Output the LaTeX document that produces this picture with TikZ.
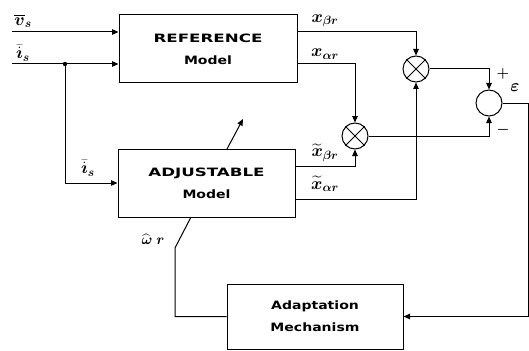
\documentclass[tikz,border=0pt]{standalone}
\usepackage{amsmath,bm}
\usepackage{fontspec}
\setsansfont{DejaVu Sans}
\usetikzlibrary{arrows.meta}
\newcommand\widetxt[1]{\scalebox{1.22}[1]{#1}}
\newcommand\widecaps[1]{\scalebox{1.45}[1]{#1}}
\begin{document}
\begin{tikzpicture}[x=1pt,y=-1pt,line width=1pt,
  box/.style={draw,rectangle,inner sep=0pt,align=center,
    font=\sffamily\bfseries\fontsize{11.5}{22}\selectfont},
  arr/.style={-{Triangle[length=6.5pt,width=5.5pt]}},
  mult/.style={draw,circle,minimum size=26pt,inner sep=0pt},
  mlbl/.style={inner sep=0pt,font=\fontsize{18}{18}\selectfont},
  slbl/.style={inner sep=0pt,font=\fontsize{15}{15}\selectfont}]
\useasboundingbox (0,0) rectangle (529,350);
% blocks
\node[box,minimum width=178pt,minimum height=68pt] (ref) at (208,49)
  {\widecaps{REFERENCE}\\\widetxt{Model}};
\node[box,minimum width=177pt,minimum height=68pt] (adj) at (206.5,183)
  {\widecaps{ADJUSTABLE}\\\widetxt{Model}};
\node[box,minimum width=176pt,minimum height=65pt] (ada) at (315,316.5)
  {\widetxt{Adaptation}\\\widetxt{Mechanism}};
% multipliers and summer
\node[mult] (m1) at (416,69) {};
\node[mult] (m2) at (355,136) {};
\node[mult] (s) at (489,103) {};
\foreach \m in {m1,m2}{
  \draw (\m.45) -- (\m.225);
  \draw (\m.135) -- (\m.315);
}
% coordinates
\coordinate (vin) at (12,32);
\coordinate (iin) at (12,64);
\coordinate (j) at (65,64);
\coordinate (yb) at (0,166);
\coordinate (ya) at (0,199);
\coordinate (er) at (528,103);
\coordinate (wb) at (175,248);
\coordinate (ws) at (191,217);
\coordinate (d1) at (227,149);
\coordinate (d2) at (243,119);
% connectors
\draw[arr] (vin) -- (vin -| ref.west);
\draw[arr] (iin) -- (iin -| ref.west);
\fill (j) circle (2.2pt);
\draw[arr] (j) |- (adj.west);
\draw[arr] (ref.east |- vin) -| (m1.north);
\draw[arr] (ref.east |- iin) -| (m2.north);
\draw[arr] (adj.east |- yb) -| (m2.south);
\draw[arr] (adj.east |- ya) -| (m1.south);
\draw[arr] (m1.east) -| (s.north);
\draw[arr] (m2.east) -| (s.south);
\draw[arr] (s.east) -- (er) |- (ada.east);
\draw (ada.west) -| (wb) -- (ws);
\draw[arr] (d1) -- (d2);
% labels
\node[mlbl] (lv) at (23,21) {$\overline{\bm v}_{\bm s}$};
\node[mlbl] (li) at (23,53) {$\bar{\dot{\bm\imath}}_{\bm s}$};
\node[mlbl] (li2) at (88,168) {$\bar{\dot{\bm\imath}}_{\bm s}$};
\node[mlbl] (lxb) at (325,21) {$\bm x_{\bm\beta \bm r}$};
\node[mlbl] (lxa) at (325,54) {$\bm x_{\bm\alpha \bm r}$};
\node[mlbl] (ltb) at (325,153) {$\widetilde{\bm x}_{\bm\beta \bm r}$};
\node[mlbl] (lta) at (325,184) {$\widetilde{\bm x}_{\bm\alpha \bm r}$};
\node[slbl] (lw) at (153,239) {$\widehat{\bm\omega}\;\bm r$};
\node[mlbl] (le) at (515,88) {$\bm\varepsilon$};
\node[slbl] (lp) at (503,74) {$\bm +$};
\node[slbl] (lm) at (503,130) {$\bm -$};
\end{tikzpicture}
\end{document}
